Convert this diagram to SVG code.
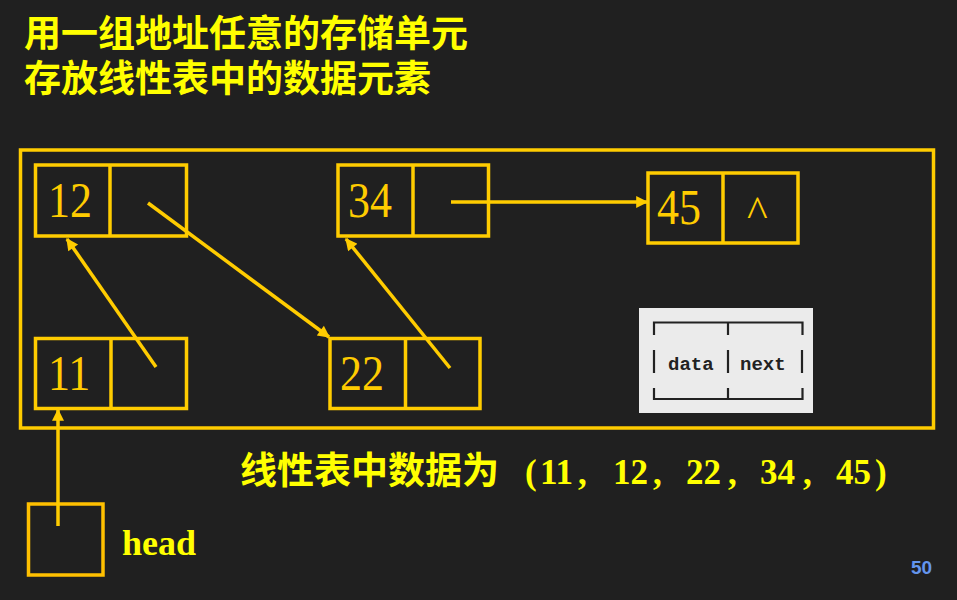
<svg xmlns="http://www.w3.org/2000/svg" width="957" height="600" viewBox="0 0 957 600">
<style>
.bg{fill:#202020}
.box{fill:none;stroke:#FFCC00;stroke-width:3.5}
.num{font-family:"Liberation Serif","Times New Roman",serif;font-size:44px;fill:#FFCC00}
.title{font-family:"Noto Sans CJK SC",sans-serif;font-weight:700;font-size:37px;fill:#FFFF00}
.serifb{font-family:"Liberation Serif","Noto Sans CJK SC",serif;font-weight:700;fill:#FFFF00}
.conn{stroke:#FFCC00;stroke-width:3.5;fill:none;marker-end:url(#ah)}
.mono{font-family:"Liberation Mono","DejaVu Sans Mono",monospace;font-size:19px;font-weight:700;fill:#222}
.tick{stroke:#222;stroke-width:2.2;fill:none}
</style>
<defs>
<marker id="ah" viewBox="0 0 10 10" refX="9" refY="5" markerUnits="userSpaceOnUse" markerWidth="15" markerHeight="12" orient="auto">
<path d="M0,0 L10,5 L0,10 z" fill="#FFCC00"/>
</marker>
</defs>
<rect class="bg" x="0" y="0" width="957" height="600"/>
<g id="title">
<text class="title"><tspan x="24" y="47">用一组地址任意的存储单元</tspan><tspan x="24" y="92">存放线性表中的数据元素</tspan></text>
</g>
<g id="frame"><rect class="box" x="20.5" y="150" width="913" height="278"/></g>
<g id="node12">
<rect class="box" x="35.5" y="165" width="151" height="71"/>
<line class="box" x1="110" y1="165" x2="110" y2="236"/>
<text class="num" transform="translate(48,217) scale(1,1.14)">12</text>
</g>
<g id="node34">
<rect class="box" x="338" y="165" width="150.5" height="71"/>
<line class="box" x1="413" y1="165" x2="413" y2="236"/>
<text class="num" transform="translate(348,217) scale(1,1.14)">34</text>
</g>
<g id="node45">
<rect class="box" x="648" y="173" width="150" height="70"/>
<line class="box" x1="723" y1="173" x2="723" y2="243"/>
<text class="num" transform="translate(657,224) scale(1,1.14)">45</text>
<text class="num" transform="translate(747,226)">^</text>
</g>
<g id="node11">
<rect class="box" x="35.5" y="338.5" width="151" height="70"/>
<line class="box" x1="111" y1="338.5" x2="111" y2="408.5"/>
<text class="num" transform="translate(48,390) scale(1,1.14)">11</text>
</g>
<g id="node22">
<rect class="box" x="330" y="338.5" width="150" height="70"/>
<line class="box" x1="405.5" y1="338.5" x2="405.5" y2="408.5"/>
<text class="num" transform="translate(340,390) scale(1,1.14)">22</text>
</g>
<g id="head">
<rect class="box" x="28.5" y="504" width="74.5" height="71" style="stroke:#FFC000"/>
<text class="serifb" x="122" y="555" font-size="36">head</text>
</g>
<g id="legend">
<rect x="639" y="308" width="174" height="105" fill="#EBEBEB"/>
<path class="tick" d="M654,335 V322.5 H802.5 V335 M728,322.5 V335 M654,388 V399 H802.5 V388 M728,388 V399 M654,350 V373 M728,350 V373 M802,350 V373"/>
<text class="mono" x="668" y="370">data</text>
<text class="mono" x="740" y="370">next</text>
</g>
<g id="connectors">
<line class="conn" x1="148" y1="203" x2="329" y2="337"/>
<line class="conn" x1="156" y1="367" x2="67" y2="239"/>
<line class="conn" x1="450" y1="368" x2="346" y2="239"/>
<line class="conn" x1="451" y1="202" x2="647" y2="202"/>
<line class="conn" x1="58" y1="526" x2="58" y2="410"/>
</g>
<g id="caption">
<text class="title" x="240" y="484">线性表中数据为</text>
<text class="serifb" y="484" font-size="35"><tspan x="525">(</tspan><tspan x="540">11</tspan><tspan x="578">,</tspan><tspan x="613">12</tspan><tspan x="653">,</tspan><tspan x="686">22</tspan><tspan x="728">,</tspan><tspan x="760">34</tspan><tspan x="803">,</tspan><tspan x="836">45</tspan><tspan x="875">)</tspan></text>
</g>
<g id="page"><text x="911" y="574" font-family="Liberation Sans, Arial, sans-serif" font-weight="700" font-size="19" fill="#6495ED">50</text></g>
</svg>
